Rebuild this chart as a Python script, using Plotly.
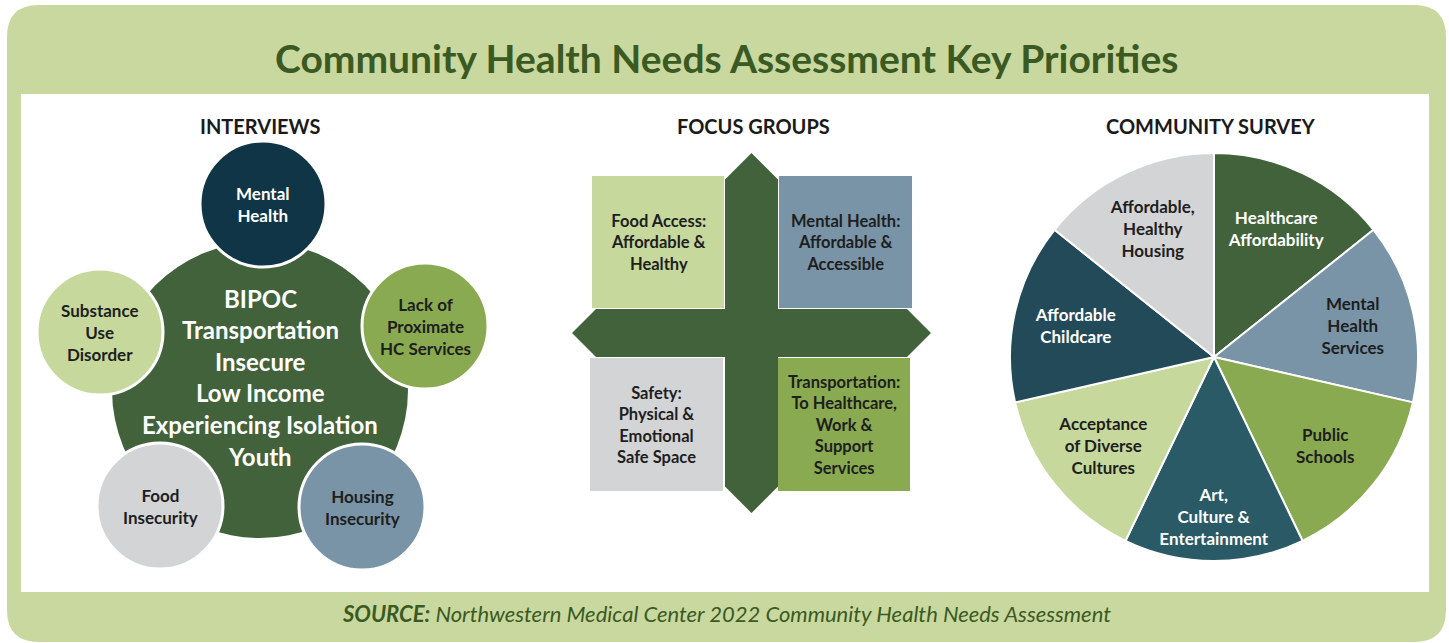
import plotly.graph_objects as go

# ---------------- data ----------------
title_text = "Community Health Needs Assessment Key Priorities"
section_titles = ["INTERVIEWS", "FOCUS GROUPS", "COMMUNITY SURVEY"]

interview_core = ["BIPOC", "Transportation", "Insecure", "Low Income",
                  "Experiencing Isolation", "Youth"]
interview_satellites = ["Mental<br>Health", "Lack of<br>Proximate<br>HC Services",
                        "Housing<br>Insecurity", "Food<br>Insecurity",
                        "Substance<br>Use<br>Disorder"]

focus_labels = ["Food Access:<br>Affordable &<br>Healthy",
                "Mental Health:<br>Affordable &<br>Accessible",
                "Safety:<br>Physical &<br>Emotional<br>Safe Space",
                "Transportation:<br>To Healthcare,<br>Work &<br>Support<br>Services"]

survey_labels = ["Healthcare<br>Affordability", "Mental<br>Health<br>Services",
                 "Public<br>Schools", "Art,<br>Culture &<br>Entertainment",
                 "Acceptance<br>of Diverse<br>Cultures", "Affordable<br>Childcare",
                 "Affordable,<br>Healthy<br>Housing"]
survey_values = [1, 1, 1, 1, 1, 1, 1]

source_text = "<b>SOURCE:</b> Northwestern Medical Center 2022 Community Health Needs Assessment"

# ---------------- styles / layout ----------------
W, H = 1449, 643
FONT = "Lato"
GREEN_BG = "#C9D89F"
DARK_GREEN = "#41623A"
TITLE_GREEN = "#3B5A23"
NAVY = "#0F3546"
MID_GREEN = "#89AA50"
BLUE_GREY = "#7894A6"
LIGHT_GREY = "#D3D4D6"
LIGHT_GREEN = "#C6D89C"
TEAL = "#2A5A65"
DARK_TEAL = "#234A58"
TXT = "#1E1E1E"

sat_colors = [NAVY, MID_GREEN, BLUE_GREY, LIGHT_GREY, LIGHT_GREEN]
sat_text_colors = ["white", TXT, TXT, TXT, TXT]
sat_centers = [(263, 204), (425, 326), (362, 507), (160, 506), (100, 332)]
sat_r = 63
core_center = (260, 390)
core_r = 148

focus_colors = [LIGHT_GREEN, BLUE_GREY, LIGHT_GREY, MID_GREEN]
focus_boxes = [(592, 176, 724, 308), (779, 176, 912, 308),
               (590, 358, 723, 491), (778, 358, 910, 491)]

survey_colors = [DARK_GREEN, BLUE_GREY, MID_GREEN, TEAL, LIGHT_GREEN, DARK_TEAL, LIGHT_GREY]
survey_text_colors = ["white", TXT, TXT, "white", TXT, "white", TXT]
pie_cx, pie_cy, pie_r = 1214, 357, 204

shapes = []
annotations = []


def rounded_rect(x0, y0, x1, y1, r):
    return (f"M {x0+r},{y0} L {x1-r},{y0} Q {x1},{y0} {x1},{y0+r} "
            f"L {x1},{y1-r} Q {x1},{y1} {x1-r},{y1} L {x0+r},{y1} "
            f"Q {x0},{y1} {x0},{y1-r} L {x0},{y0+r} Q {x0},{y0} {x0+r},{y0} Z")


# background panels
shapes.append(dict(type="path", path=rounded_rect(7, 5, 1446, 642, 32),
                   fillcolor=GREEN_BG, line=dict(width=0), layer="below"))
shapes.append(dict(type="rect", x0=21, y0=94, x1=1429, y1=592,
                   fillcolor="white", line=dict(width=0), layer="below"))

# title & source
annotations.append(dict(x=726, y=58, text=f"<b>{title_text}</b>", showarrow=False,
                        font=dict(family=FONT, size=39, color=TITLE_GREEN),
                        xanchor="center", yanchor="middle"))
annotations.append(dict(x=726, y=613, text=f"<i>{source_text}</i>", showarrow=False,
                        font=dict(family=FONT, size=22, color=TITLE_GREEN),
                        xanchor="center", yanchor="middle"))

# section titles
for t, x in zip(section_titles, [260, 753, 1211]):
    annotations.append(dict(x=x, y=126, text=f"<b>{t}</b>", showarrow=False,
                            font=dict(family=FONT, size=20, color="#1A1A1A"),
                            xanchor="center", yanchor="middle"))

# ----- interviews -----
cx, cy = core_center
shapes.append(dict(type="circle", x0=cx-core_r, y0=cy-core_r, x1=cx+core_r, y1=cy+core_r,
                   fillcolor=DARK_GREEN, line=dict(width=0)))
for (sx, sy), col in zip(sat_centers, sat_colors):
    shapes.append(dict(type="circle", x0=sx-sat_r, y0=sy-sat_r, x1=sx+sat_r, y1=sy+sat_r,
                       fillcolor=col, line=dict(color="white", width=3)))
for (sx, sy), lab, tc in zip(sat_centers, interview_satellites, sat_text_colors):
    annotations.append(dict(x=sx, y=sy, text=f"<b>{lab}</b>", showarrow=False,
                            font=dict(family=FONT, size=17, color=tc),
                            xanchor="center", yanchor="middle"))
line_gap = 31.6
y_first = 298
for i, item in enumerate(interview_core):
    annotations.append(dict(x=260, y=y_first + i*line_gap, text=f"<b>{item}</b>",
                            showarrow=False, font=dict(family=FONT, size=24, color="white"),
                            xanchor="center", yanchor="middle"))

# ----- focus groups -----
for (x0, y0, x1, y1), col, lab in zip(focus_boxes, focus_colors, focus_labels):
    shapes.append(dict(type="rect", x0=x0, y0=y0, x1=x1, y1=y1, fillcolor=col,
                       line=dict(width=0)))
    annotations.append(dict(x=(x0+x1)/2, y=(y0+y1)/2, text=f"<b>{lab}</b>", showarrow=False,
                            font=dict(family=FONT, size=16.5, color=TXT),
                            xanchor="center", yanchor="middle"))
# cross arrows
ax_c, ay_c = 751.5, 333
vw, hw = 26.5, 24
vtip_top, vtip_bot = 153, 513
htip_l, htip_r = 572, 931
cross_path = (f"M {ax_c},{vtip_top} L {ax_c+vw},{vtip_top+vw} L {ax_c+vw},{ay_c-hw} "
              f"L {htip_r-hw},{ay_c-hw} L {htip_r},{ay_c} L {htip_r-hw},{ay_c+hw} "
              f"L {ax_c+vw},{ay_c+hw} L {ax_c+vw},{vtip_bot-vw} L {ax_c},{vtip_bot} "
              f"L {ax_c-vw},{vtip_bot-vw} L {ax_c-vw},{ay_c+hw} L {htip_l+hw},{ay_c+hw} "
              f"L {htip_l},{ay_c} L {htip_l+hw},{ay_c-hw} L {ax_c-vw},{ay_c-hw} "
              f"L {ax_c-vw},{vtip_top+vw} Z")
shapes.append(dict(type="path", path=cross_path, fillcolor=DARK_GREEN, line=dict(width=0)))

# ----- community survey pie -----
pie = go.Pie(
    values=survey_values, text=survey_labels, textinfo="text",
    texttemplate="<b>%{text}</b>",
    sort=False, direction="clockwise", rotation=0,
    marker=dict(colors=survey_colors, line=dict(color="white", width=2)),
    textposition="inside", insidetextorientation="horizontal",
    insidetextfont=dict(family=FONT, size=17, color=survey_text_colors),
    hoverinfo="skip", showlegend=False,
    domain=dict(x=[(pie_cx-pie_r)/W, (pie_cx+pie_r)/W],
                y=[1-(pie_cy+pie_r)/H, 1-(pie_cy-pie_r)/H]),
)

# invisible cartesian trace so the pixel-scaled axes exist for shapes/annotations
anchor = go.Scatter(x=[0, W], y=[0, H], mode="markers", marker=dict(opacity=0),
                    hoverinfo="skip", showlegend=False)

fig = go.Figure([anchor, pie])
fig.update_layout(
    width=W, height=H, margin=dict(l=0, r=0, t=0, b=0),
    paper_bgcolor="white", plot_bgcolor="rgba(0,0,0,0)",
    xaxis=dict(range=[0, W], visible=False, fixedrange=True),
    yaxis=dict(range=[H, 0], visible=False, fixedrange=True),
    shapes=shapes, annotations=annotations, showlegend=False,
)
fig.write_html("out.html", config={"displayModeBar": False},
               post_script="document.body.style.margin='0px';document.body.style.overflow='hidden';")
